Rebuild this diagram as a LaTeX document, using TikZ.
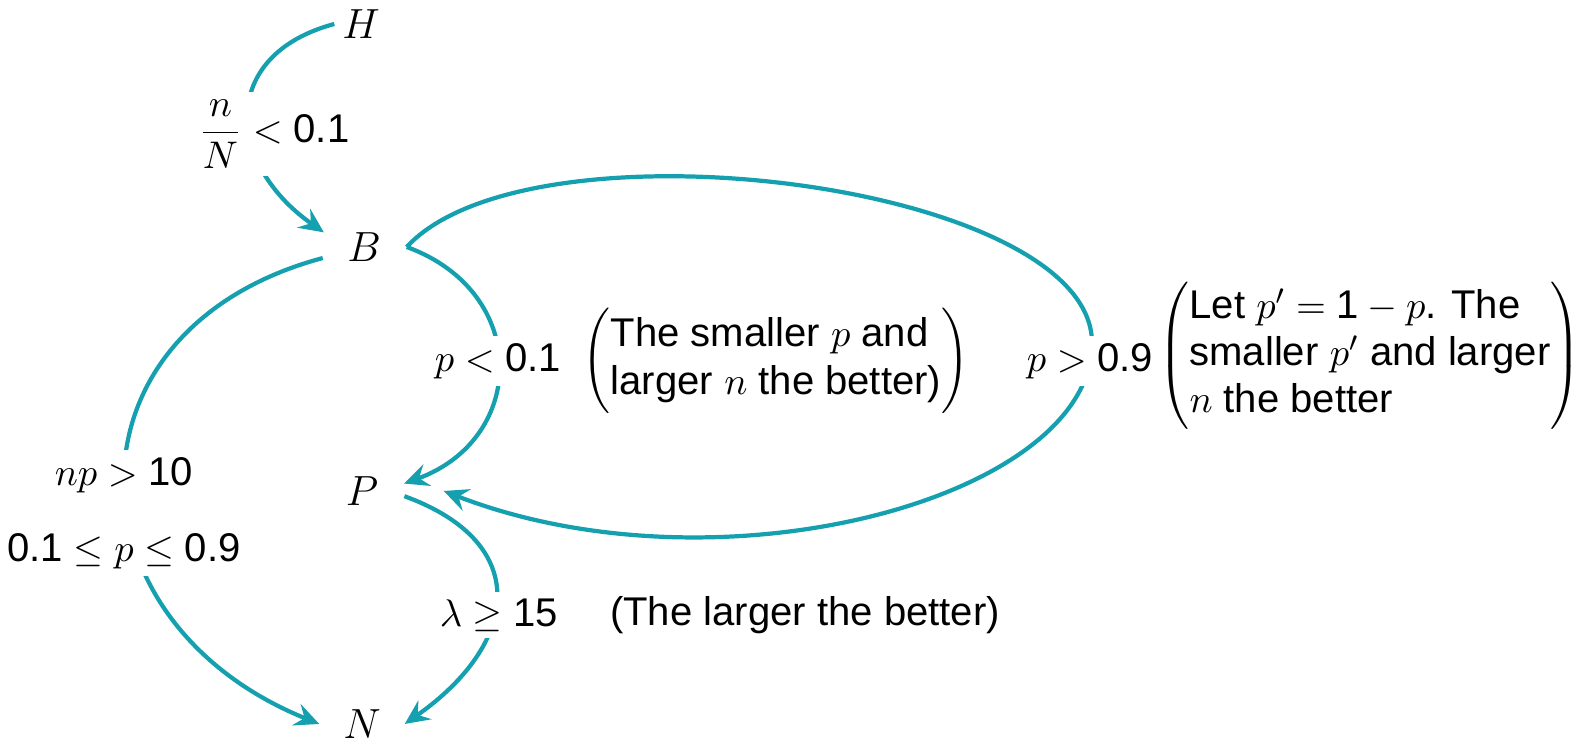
\documentclass[tikz,border=0pt]{standalone}
\usepackage{fontspec}
\setmainfont{Liberation Sans}
\usetikzlibrary{arrows.meta}
\definecolor{flowteal}{RGB}{20,160,175}

\begin{document}
\begin{tikzpicture}[
  vtx/.style={circle,inner sep=0pt,minimum size=0.84cm,font=\fontsize{11.8}{13.5}\selectfont},
  link/.style={draw=flowteal,line width=1.2pt,-{Stealth[length=7pt,width=6.5pt,inset=2.5pt]}},
  cond/.style={fill=white,inner sep=2pt,font=\fontsize{11.4}{13.5}\selectfont},
  note/.style={inner sep=0pt,font=\fontsize{11.4}{13.5}\selectfont}]
  \useasboundingbox (0,0) rectangle (15.85,7.43);
  \node[vtx,minimum size=0.52cm] (H) at (3.61,7.19) {$H$};
  \node[vtx] (B) at (3.64,4.96) {$B$};
  \node[vtx] (P) at (3.62,2.52) {$P$};
  \node[vtx] (N) at (3.62,0.19) {$N$};
  \coordinate (loopR) at (10.92,4.0);
  \draw[link] (H.west) to[out=195,in=145,looseness=1.47] (B.160);
  \draw[link] (B.195) to[out=195,in=158,looseness=1.51] (N.west);
  \draw[link] (B.east) to[out=-20,in=20,looseness=1.42] (P.10);
  \draw[link] (B.east) .. controls (5.3,6.3) and (10.92,5.6) .. (loopR)
    .. controls (10.92,2.45) and (7.2,1.45) .. ([xshift=0.39cm]P.east);
  \draw[link] (P.-7) to[out=-20,in=35,looseness=1.56] (N.east);
  \node[cond] (hb) at (2.74,6.09) {$\displaystyle\frac{n}{N} < \mbox{0.1}$};
  \node[cond] (bp) at (4.98,3.82) {$p < \mbox{0.1}$};
  \node[cond] (bpl) at (10.90,3.82) {$p > \mbox{0.9}$};
  \node[cond,align=center] (bn) at (1.24,2.30) {$np > \mbox{10}$\\[8pt]$\mbox{0.1}\leq p\leq\mbox{0.9}$};
  \node[cond] (pn) at (4.99,1.28) {$\lambda \geq \mbox{15}$};
  \node[note] (bpnote) at (7.76,3.82)
  {$\left(\begin{tabular}{@{}l@{}}The smaller $p$ and\\larger $n$ the better)\end{tabular}\right)$};
  \node[note] (loopnote) at (13.70,3.87)
  {$\left(\begin{tabular}{@{}l@{}}Let $p' = \mbox{1} - p$. The\\smaller $p'$ and larger\\$n$ the better\end{tabular}\right)$};
  \node[note] (pnnote) at (8.05,1.28) {(The larger the better)};
\end{tikzpicture}
\end{document}
